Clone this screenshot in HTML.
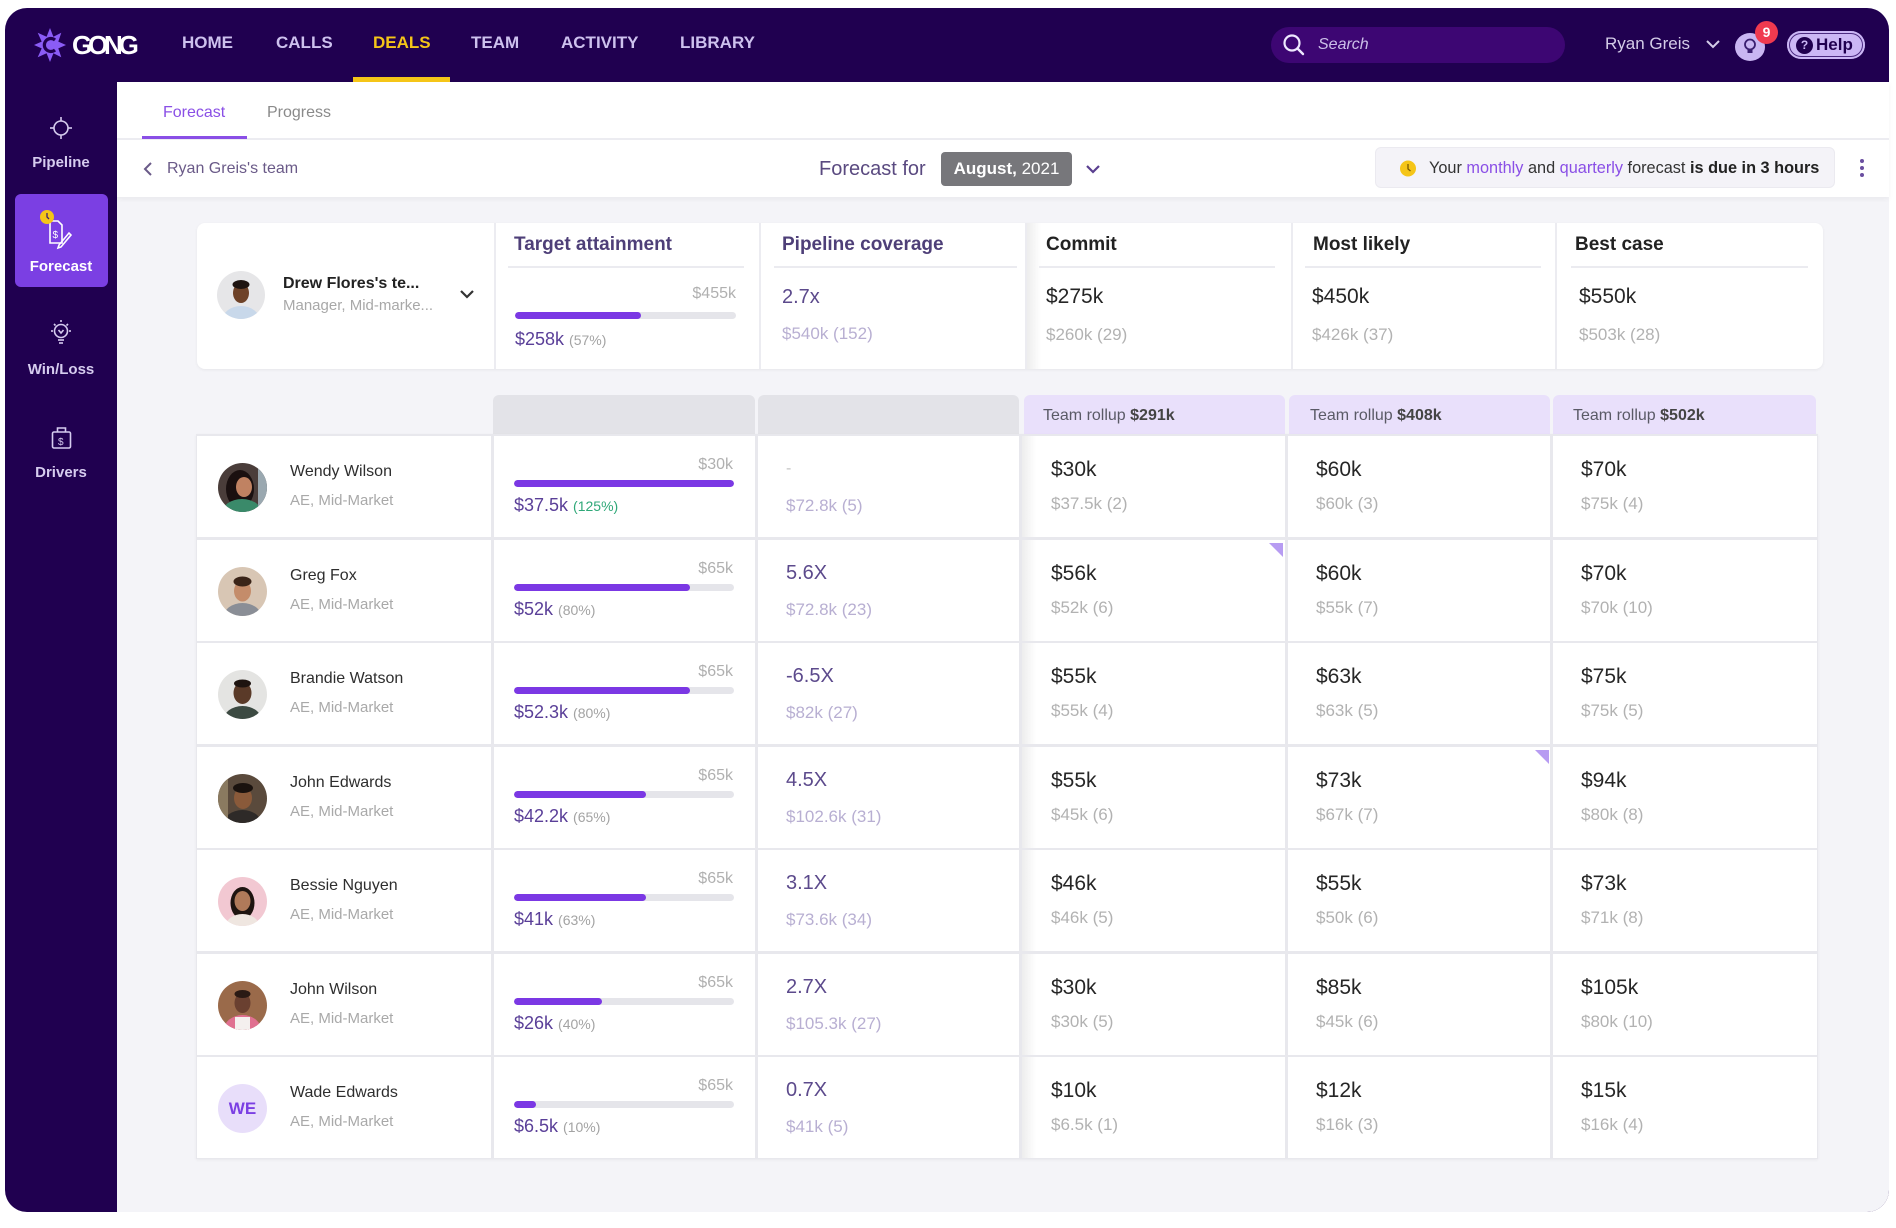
<!DOCTYPE html>
<html><head><meta charset="utf-8">
<style>
*{box-sizing:border-box;margin:0;padding:0}
body{width:1896px;height:1228px;background:#fff;position:relative;overflow:hidden;font-family:"Liberation Sans",Arial,sans-serif;}
.a{position:absolute;white-space:nowrap;line-height:24px;height:24px}
.frame{position:absolute;left:5px;top:8px;width:1884px;height:1204px;background:#200050;border-radius:22px}
.main{position:absolute;left:117px;top:82px;width:1772px;height:1130px;background:#f4f4f8;border-bottom-right-radius:22px}
.hdr{position:absolute;left:117px;top:82px;width:1772px;height:115px;background:#fff;box-shadow:0 2px 5px rgba(0,0,0,0.05)}
.nav{font-size:17px;font-weight:bold;color:#cdc1ee;top:31px}
.sl{left:5px;width:112px;text-align:center;font-size:15px;font-weight:bold;color:#d6ccef}
.card{position:absolute;left:197px;top:223px;width:1626px;height:146px;background:#fff;border-radius:8px;box-shadow:0 1px 3px rgba(0,0,0,0.06)}
.vd{position:absolute;top:223px;width:2px;height:146px;background:#ececf1}
.ttl{font-size:19px;font-weight:bold;top:233px}
.tl{position:absolute;top:266px;height:2px;background:#ebebf0}
.th{position:absolute;top:395px;height:40px;border-radius:6px 6px 0 0}
.tbl{position:absolute;left:196px;top:434px;width:1622px;height:725px;background:#e8e8ed;box-shadow:0 1px 3px rgba(0,0,0,0.05)}
.row{position:absolute;left:0;width:1896px;height:101px}
.cell{position:absolute;top:0;height:101px;background:#fff}
.cm{background:linear-gradient(to right,rgba(0,0,0,0.07),rgba(0,0,0,0) 14px),#fff}
.av{position:absolute;left:218px;top:27px;width:49px;height:49px;border-radius:50%;overflow:hidden}
.nm{left:290px;top:24px;font-size:16px;color:#2e2e2e}
.rl{left:290px;top:53px;font-size:15px;color:#a9a9a9}
.mx{left:494px;width:239px;text-align:right;top:17px;font-size:16px;color:#b0b0b0}
.bar{position:absolute;left:514px;top:44px;width:220px;height:7px;background:#e5e5ea;border-radius:4px;overflow:hidden}
.bar i{display:block;height:7px;background:#7b38e4;border-radius:4px}
.tv{left:514px;top:57px;font-size:18px;color:#5a3f98}
.tv span{font-size:14px;color:#a3a3a3}
.tv span.g{color:#2fa878}
.pm{left:786px;top:21px;font-size:20px;color:#5c4a8c}
.ps{left:786px;top:58px;font-size:17px;color:#b8afd2}
.cv{top:22px;font-size:21px;color:#262626}
.cs{top:56px;font-size:17px;color:#b2b2b2}
.tr{font-size:16px;color:#5a5a66;top:404px}
.tr b{color:#444}
</style></head><body>

<div class="frame"></div>
<div class="main"></div>
<div class="hdr"></div>
<div style="position:absolute;left:117px;top:138px;width:1772px;height:2px;background:#ececf1"></div>

<!-- logo -->
<svg class="a" style="left:30px;top:24px;height:44px;width:44px;line-height:0" width="44" height="44" viewBox="30 24 44 44">
<polygon fill="#8b5cf6" points="50,28 53.4,36.7 61.3,32.7 58.3,41.6 66,45 58.3,48.4 61.3,57.3 53.4,53.3 50,62 46.6,53.3 37.7,57.3 41.7,48.4 34,45 41.7,41.6 37.7,32.7 46.6,36.7"/>
<path d="M55 40 A6.5 6.5 0 1 0 55 50" stroke="#200050" stroke-width="3.2" fill="none"/>
</svg>
<div class="a" style="left:72px;top:29px;height:32px;line-height:32px;font-size:26px;font-weight:bold;color:#fff;letter-spacing:-4.2px">GONG</div>

<div class="a nav" style="left:182px">HOME</div>
<div class="a nav" style="left:276px">CALLS</div>
<div class="a nav" style="left:373px;color:#f5c518">DEALS</div>
<div class="a nav" style="left:471px">TEAM</div>
<div class="a nav" style="left:561px">ACTIVITY</div>
<div class="a nav" style="left:680px">LIBRARY</div>
<div style="position:absolute;left:353px;top:77px;width:97px;height:5px;background:#f5c518"></div>

<!-- search -->
<div style="position:absolute;left:1271px;top:27px;width:294px;height:36px;border-radius:18px;background:#3d0673"></div>
<svg class="a" style="left:1280px;top:31px;width:28px;height:28px" viewBox="1280 31 28 28"><circle cx="1292" cy="43" r="7.5" stroke="#eee8ff" stroke-width="2.2" fill="none"/><line x1="1297.5" y1="48.5" x2="1303" y2="54" stroke="#eee8ff" stroke-width="2.4" stroke-linecap="round"/></svg>
<div class="a" style="left:1318px;top:33px;font-size:16px;font-style:italic;color:#cbbfe8">Search</div>

<div class="a" style="left:1605px;top:32px;font-size:17px;color:#d4cce8">Ryan Greis</div>
<svg class="a" style="left:1704px;top:38px;width:18px;height:12px" viewBox="0 0 18 12"><polyline points="3,3 9,9 15,3" stroke="#d4cce8" stroke-width="2" fill="none"/></svg>
<div style="position:absolute;left:1735px;top:33px;width:30px;height:28px;border-radius:50%;background:#c9b6f2"></div>
<svg class="a" style="left:1741px;top:37px;width:18px;height:20px" viewBox="0 0 18 20"><circle cx="9" cy="7.5" r="5" fill="none" stroke="#3a1f70" stroke-width="1.8"/><rect x="6.5" y="12" width="5" height="4" fill="#3a1f70"/></svg>
<div style="position:absolute;left:1755px;top:21px;width:23px;height:23px;border-radius:50%;background:#f03a4f;color:#fff;font-size:14px;font-weight:bold;text-align:center;line-height:23px">9</div>
<div style="position:absolute;left:1787px;top:31px;width:78px;height:28px;border-radius:14px;background:#cbb7f5;box-shadow:inset 0 0 0 2px #cbb7f5,inset 0 0 0 3px #4a2a80"></div>
<div style="position:absolute;left:1796px;top:37px;width:17px;height:17px;border-radius:50%;background:#200050;color:#cbb7f5;font-size:12px;font-weight:bold;text-align:center;line-height:17px">?</div>
<div class="a" style="left:1816px;top:33px;font-size:17px;font-weight:bold;color:#200050">Help</div>

<!-- sidebar -->
<svg class="a" style="left:45px;top:112px;width:32px;height:32px" viewBox="45 112 32 32"><g stroke="#d6ccef" stroke-width="1.6" fill="none"><circle cx="61" cy="128" r="7"/><line x1="61" y1="117" x2="61" y2="121"/><line x1="61" y1="135" x2="61" y2="139"/><line x1="50" y1="128" x2="54" y2="128"/><line x1="68" y1="128" x2="72" y2="128"/></g></svg>
<div class="a sl" style="top:151px">Pipeline</div>
<div style="position:absolute;left:15px;top:194px;width:93px;height:93px;border-radius:6px;background:#7b3fe3"></div>
<svg class="a" style="left:38px;top:208px;width:40px;height:42px" viewBox="38 208 40 42"><g stroke="#fff" stroke-width="1.6" fill="none"><path d="M50 221 h8 l4 4 v18 h-12 z"/><path d="M59 245 l10 -12 l2 2 l-10 12 l-3 1 z"/></g><text x="52.5" y="238" font-size="10" fill="#fff" font-family="Liberation Sans">$</text><circle cx="47" cy="217" r="7" fill="#f5c518"/><path d="M47 213 v4 l2 2" stroke="#3a2070" stroke-width="1.3" fill="none"/></svg>
<div class="a sl" style="top:255px;color:#fff">Forecast</div>
<svg class="a" style="left:47px;top:318px;width:28px;height:30px" viewBox="47 318 28 30"><g stroke="#d6ccef" stroke-width="1.6" fill="none"><circle cx="61" cy="331" r="6.5"/><line x1="58" y1="340" x2="64" y2="340"/><line x1="59" y1="343" x2="63" y2="343"/><line x1="61" y1="320" x2="61" y2="322"/><line x1="51" y1="331" x2="53" y2="331"/><line x1="69" y1="331" x2="71" y2="331"/><line x1="54" y1="324" x2="55.5" y2="325.5"/><line x1="68" y1="324" x2="66.5" y2="325.5"/><path d="M58.5 330 l2.5 3 l2.5 -3"/></g></svg>
<div class="a sl" style="top:358px">Win/Loss</div>
<svg class="a" style="left:48px;top:424px;width:28px;height:28px" viewBox="48 424 28 28"><g stroke="#d6ccef" stroke-width="1.6" fill="none"><rect x="52.5" y="432" width="18" height="16" rx="1.5"/><path d="M57.5 432 v-4 h8 v4"/></g><text x="58" y="445" font-size="10" fill="#d6ccef" font-family="Liberation Sans">$</text></svg>
<div class="a sl" style="top:461px">Drivers</div>

<!-- tabs -->
<div class="a" style="left:163px;top:101px;font-size:16px;color:#8a4fe6">Forecast</div>
<div style="position:absolute;left:142px;top:136px;width:105px;height:3px;background:#8a4fe6"></div>
<div class="a" style="left:267px;top:101px;font-size:16px;color:#8a8a8a">Progress</div>

<svg class="a" style="left:142px;top:161px;width:14px;height:16px" viewBox="0 0 14 16"><polyline points="9,2 3,8 9,14" stroke="#6a5a88" stroke-width="2" fill="none"/></svg>
<div class="a" style="left:167px;top:157px;font-size:16px;color:#6a5a88">Ryan Greis's team</div>
<div class="a" style="left:819px;top:157px;font-size:20px;color:#5a4a80">Forecast for</div>
<div style="position:absolute;left:941px;top:152px;width:131px;height:34px;border-radius:4px;background:#77777b;color:#fff;font-size:17px;line-height:34px;text-align:center"><b>August,</b> 2021</div>
<svg class="a" style="left:1084px;top:162px;width:18px;height:14px" viewBox="0 0 18 14"><polyline points="3,4 9,10 15,4" stroke="#5a3f90" stroke-width="2.2" fill="none"/></svg>
<div style="position:absolute;left:1375px;top:147px;width:460px;height:41px;border-radius:6px;background:#f4f3f8;border:1px solid #ebeaf0"></div>
<svg class="a" style="left:1399px;top:159px;width:20px;height:20px" viewBox="0 0 20 20"><circle cx="9" cy="9.5" r="8" fill="#f5c518"/><path d="M9 5 v5 l2.5 2" stroke="#7a5a00" stroke-width="1.3" fill="none"/></svg>
<div class="a" style="left:1429px;top:156px;font-size:16.3px;color:#333">Your <span style="color:#8a4fe6">monthly</span> and <span style="color:#8a4fe6">quarterly</span> forecast <b style="color:#222">is due in 3 hours</b></div>
<svg class="a" style="left:1857px;top:156px;width:10px;height:24px" viewBox="0 0 10 24"><circle cx="5" cy="5" r="2" fill="#6a4ea0"/><circle cx="5" cy="12" r="2" fill="#6a4ea0"/><circle cx="5" cy="19" r="2" fill="#6a4ea0"/></svg>

<!-- summary card -->
<div class="card"></div>
<div style="position:absolute;left:1027px;top:223px;width:14px;height:146px;background:linear-gradient(to right,rgba(0,0,0,0.07),rgba(0,0,0,0))"></div>
<div class="vd" style="left:494px"></div>
<div class="vd" style="left:759px"></div>
<div class="vd" style="left:1025px"></div>
<div class="vd" style="left:1291px"></div>
<div class="vd" style="left:1555px"></div>

<div style="position:absolute;left:217px;top:271px;width:48px;height:48px;border-radius:50%;overflow:hidden;background:#e6e6e8"><svg width="48" height="48"><ellipse cx="24" cy="50" rx="19" ry="15" fill="#c8d8ea"/><ellipse cx="24" cy="22" rx="8" ry="10" fill="#6e4228"/><ellipse cx="24" cy="13.5" rx="8.5" ry="4.5" fill="#1e1410"/></svg></div>
<div class="a" style="left:283px;top:272px;font-size:16px;font-weight:bold;color:#222">Drew Flores's te...</div>
<div class="a" style="left:283px;top:294px;font-size:15px;color:#a8a8a8">Manager, Mid-marke...</div>
<svg class="a" style="left:458px;top:288px;width:18px;height:14px" viewBox="0 0 18 14"><polyline points="3,3 9,9 15,3" stroke="#333" stroke-width="2.2" fill="none"/></svg>

<div class="a ttl" style="left:514px;color:#4e3f78">Target attainment</div>
<div class="a ttl" style="left:782px;color:#4e3f78">Pipeline coverage</div>
<div class="a ttl" style="left:1046px;color:#222">Commit</div>
<div class="a ttl" style="left:1313px;color:#222">Most likely</div>
<div class="a ttl" style="left:1575px;color:#222">Best case</div>
<div class="tl" style="left:508px;width:236px"></div>
<div class="tl" style="left:774px;width:243px"></div>
<div class="tl" style="left:1039px;width:236px"></div>
<div class="tl" style="left:1305px;width:236px"></div>
<div class="tl" style="left:1571px;width:237px"></div>

<div class="a" style="left:496px;width:240px;text-align:right;top:282px;font-size:16px;color:#b0b0b0">$455k</div>
<div class="bar" style="left:515px;top:312px;width:221px"><i style="width:57%"></i></div>
<div class="a tv" style="left:515px;top:327px">$258k <span>(57%)</span></div>
<div class="a" style="left:782px;top:285px;font-size:20px;color:#5c4a8c">2.7x</div>
<div class="a" style="left:782px;top:322px;font-size:17px;color:#b8afd2">$540k (152)</div>
<div class="a cv" style="left:1046px;top:285px">$275k</div>
<div class="a cs" style="left:1046px;top:323px">$260k (29)</div>
<div class="a cv" style="left:1312px;top:285px">$450k</div>
<div class="a cs" style="left:1312px;top:323px">$426k (37)</div>
<div class="a cv" style="left:1579px;top:285px">$550k</div>
<div class="a cs" style="left:1579px;top:323px">$503k (28)</div>

<!-- table header -->
<div class="th" style="left:493px;width:262px;background:#e3e3e8"></div>
<div class="th" style="left:758px;width:261px;background:#e3e3e8"></div>
<div class="th" style="left:1024px;width:261px;background:#e9e0fb"></div>
<div class="th" style="left:1289px;width:261px;background:#e9e0fb"></div>
<div class="th" style="left:1553px;width:263px;background:#e9e0fb"></div>
<div class="a tr" style="left:1043px">Team rollup <b>$291k</b></div>
<div class="a tr" style="left:1310px">Team rollup <b>$408k</b></div>
<div class="a tr" style="left:1573px">Team rollup <b>$502k</b></div>

<div class="tbl"></div>

<!-- rows -->
<div class="row" style="top:436px">
<div class="cell" style="left:197px;width:294px"></div><div class="cell" style="left:494px;width:261px"></div><div class="cell" style="left:758px;width:261px"></div><div class="cell cm" style="left:1022px;width:263px"></div><div class="cell" style="left:1288px;width:262px"></div><div class="cell" style="left:1553px;width:264px"></div>
<div class="av" style="background:#4a3d3a"><svg width="49" height="49"><ellipse cx="22" cy="26" rx="14" ry="19" fill="#1a1010"/><ellipse cx="24" cy="50" rx="20" ry="14" fill="#3a8a6a"/><ellipse cx="26" cy="24" rx="8" ry="10" fill="#c08262"/><rect x="40" y="5" width="9" height="40" fill="#9aa8b0"/></svg></div>
<div class="a nm">Wendy Wilson</div><div class="a rl">AE, Mid-Market</div>
<div class="a mx">$30k</div><div class="bar"><i style="width:100%"></i></div>
<div class="a tv">$37.5k <span class="g">(125%)</span></div>
<div class="a pm" style="color:#c4c4c4;font-size:16px">-</div><div class="a ps">$72.8k (5)</div>
<div class="a cv" style="left:1051px">$30k</div><div class="a cs" style="left:1051px">$37.5k (2)</div>
<div class="a cv" style="left:1316px">$60k</div><div class="a cs" style="left:1316px">$60k (3)</div>
<div class="a cv" style="left:1581px">$70k</div><div class="a cs" style="left:1581px">$75k (4)</div>
</div>

<div class="row" style="top:540px">
<div class="cell" style="left:197px;width:294px"></div><div class="cell" style="left:494px;width:261px"></div><div class="cell" style="left:758px;width:261px"></div><div class="cell cm" style="left:1022px;width:263px"></div><div class="cell" style="left:1288px;width:262px"></div><div class="cell" style="left:1553px;width:264px"></div>
<div class="av" style="background:#d8c6b4"><svg width="49" height="49"><ellipse cx="24.5" cy="50" rx="19" ry="14" fill="#8a8e96"/><ellipse cx="24.5" cy="24" rx="8.5" ry="10.5" fill="#c48c6a"/><ellipse cx="24.5" cy="14.5" rx="9" ry="5" fill="#3a2418"/></svg></div>
<div class="a nm">Greg Fox</div><div class="a rl">AE, Mid-Market</div>
<div class="a mx">$65k</div><div class="bar"><i style="width:80%"></i></div>
<div class="a tv">$52k <span>(80%)</span></div>
<div class="a pm">5.6X</div><div class="a ps">$72.8k (23)</div>
<div class="a cv" style="left:1051px">$56k</div><div class="a cs" style="left:1051px">$52k (6)</div>
<div class="a cv" style="left:1316px">$60k</div><div class="a cs" style="left:1316px">$55k (7)</div>
<div class="a cv" style="left:1581px">$70k</div><div class="a cs" style="left:1581px">$70k (10)</div>
<svg style="position:absolute;left:1269px;top:3px" width="15" height="15"><polygon points="0,0 14,0 14,14" fill="#b79cf2"/></svg>
</div>

<div class="row" style="top:643px">
<div class="cell" style="left:197px;width:294px"></div><div class="cell" style="left:494px;width:261px"></div><div class="cell" style="left:758px;width:261px"></div><div class="cell cm" style="left:1022px;width:263px"></div><div class="cell" style="left:1288px;width:262px"></div><div class="cell" style="left:1553px;width:264px"></div>
<div class="av" style="background:#e4e4e2"><svg width="49" height="49"><ellipse cx="24.5" cy="50" rx="19" ry="14" fill="#3c4a42"/><ellipse cx="24.5" cy="23" rx="9" ry="11" fill="#5a3a28"/><ellipse cx="24.5" cy="13.5" rx="8.5" ry="4" fill="#1e1410"/></svg></div>
<div class="a nm">Brandie Watson</div><div class="a rl">AE, Mid-Market</div>
<div class="a mx">$65k</div><div class="bar"><i style="width:80%"></i></div>
<div class="a tv">$52.3k <span>(80%)</span></div>
<div class="a pm">-6.5X</div><div class="a ps">$82k (27)</div>
<div class="a cv" style="left:1051px">$55k</div><div class="a cs" style="left:1051px">$55k (4)</div>
<div class="a cv" style="left:1316px">$63k</div><div class="a cs" style="left:1316px">$63k (5)</div>
<div class="a cv" style="left:1581px">$75k</div><div class="a cs" style="left:1581px">$75k (5)</div>
</div>

<div class="row" style="top:747px">
<div class="cell" style="left:197px;width:294px"></div><div class="cell" style="left:494px;width:261px"></div><div class="cell" style="left:758px;width:261px"></div><div class="cell cm" style="left:1022px;width:263px"></div><div class="cell" style="left:1288px;width:262px"></div><div class="cell" style="left:1553px;width:264px"></div>
<div class="av" style="background:#5a4a3c"><svg width="49" height="49"><ellipse cx="24.5" cy="50" rx="19" ry="14" fill="#2e2a28"/><ellipse cx="25" cy="24" rx="9" ry="11" fill="#8a5a3a"/><ellipse cx="25" cy="14" rx="10" ry="5" fill="#1a120e"/><rect x="0" y="0" width="10" height="49" fill="#8a7a60"/></svg></div>
<div class="a nm">John Edwards</div><div class="a rl">AE, Mid-Market</div>
<div class="a mx">$65k</div><div class="bar"><i style="width:60%"></i></div>
<div class="a tv">$42.2k <span>(65%)</span></div>
<div class="a pm">4.5X</div><div class="a ps">$102.6k (31)</div>
<div class="a cv" style="left:1051px">$55k</div><div class="a cs" style="left:1051px">$45k (6)</div>
<div class="a cv" style="left:1316px">$73k</div><div class="a cs" style="left:1316px">$67k (7)</div>
<div class="a cv" style="left:1581px">$94k</div><div class="a cs" style="left:1581px">$80k (8)</div>
<svg style="position:absolute;left:1535px;top:3px" width="15" height="15"><polygon points="0,0 14,0 14,14" fill="#b79cf2"/></svg>
</div>

<div class="row" style="top:850px">
<div class="cell" style="left:197px;width:294px"></div><div class="cell" style="left:494px;width:261px"></div><div class="cell" style="left:758px;width:261px"></div><div class="cell cm" style="left:1022px;width:263px"></div><div class="cell" style="left:1288px;width:262px"></div><div class="cell" style="left:1553px;width:264px"></div>
<div class="av" style="background:#f2c8d2"><svg width="49" height="49"><ellipse cx="24.5" cy="26" rx="12" ry="16" fill="#1e1410"/><ellipse cx="24.5" cy="50" rx="17" ry="13" fill="#efe6e0"/><ellipse cx="24.5" cy="24" rx="8" ry="10" fill="#b07a5a"/></svg></div>
<div class="a nm">Bessie Nguyen</div><div class="a rl">AE, Mid-Market</div>
<div class="a mx">$65k</div><div class="bar"><i style="width:60%"></i></div>
<div class="a tv">$41k <span>(63%)</span></div>
<div class="a pm">3.1X</div><div class="a ps">$73.6k (34)</div>
<div class="a cv" style="left:1051px">$46k</div><div class="a cs" style="left:1051px">$46k (5)</div>
<div class="a cv" style="left:1316px">$55k</div><div class="a cs" style="left:1316px">$50k (6)</div>
<div class="a cv" style="left:1581px">$73k</div><div class="a cs" style="left:1581px">$71k (8)</div>
</div>

<div class="row" style="top:954px">
<div class="cell" style="left:197px;width:294px"></div><div class="cell" style="left:494px;width:261px"></div><div class="cell" style="left:758px;width:261px"></div><div class="cell cm" style="left:1022px;width:263px"></div><div class="cell" style="left:1288px;width:262px"></div><div class="cell" style="left:1553px;width:264px"></div>
<div class="av" style="background:#9a6a4a"><svg width="49" height="49"><ellipse cx="24.5" cy="50" rx="19" ry="16" fill="#e07090"/><rect x="17" y="36" width="15" height="14" fill="#f4f0ee"/><ellipse cx="24.5" cy="22" rx="8" ry="10" fill="#6a4030"/><ellipse cx="24.5" cy="13" rx="8" ry="4" fill="#2a1a14"/></svg></div>
<div class="a nm">John Wilson</div><div class="a rl">AE, Mid-Market</div>
<div class="a mx">$65k</div><div class="bar"><i style="width:40%"></i></div>
<div class="a tv">$26k <span>(40%)</span></div>
<div class="a pm">2.7X</div><div class="a ps">$105.3k (27)</div>
<div class="a cv" style="left:1051px">$30k</div><div class="a cs" style="left:1051px">$30k (5)</div>
<div class="a cv" style="left:1316px">$85k</div><div class="a cs" style="left:1316px">$45k (6)</div>
<div class="a cv" style="left:1581px">$105k</div><div class="a cs" style="left:1581px">$80k (10)</div>
</div>

<div class="row" style="top:1057px">
<div class="cell" style="left:197px;width:294px"></div><div class="cell" style="left:494px;width:261px"></div><div class="cell" style="left:758px;width:261px"></div><div class="cell cm" style="left:1022px;width:263px"></div><div class="cell" style="left:1288px;width:262px"></div><div class="cell" style="left:1553px;width:264px"></div>
<div class="av" style="background:#e8defa;color:#7b3fe3;font-size:17px;font-weight:bold;text-align:center;line-height:49px">WE</div>
<div class="a nm">Wade Edwards</div><div class="a rl">AE, Mid-Market</div>
<div class="a mx">$65k</div><div class="bar"><i style="width:10%"></i></div>
<div class="a tv">$6.5k <span>(10%)</span></div>
<div class="a pm">0.7X</div><div class="a ps">$41k (5)</div>
<div class="a cv" style="left:1051px">$10k</div><div class="a cs" style="left:1051px">$6.5k (1)</div>
<div class="a cv" style="left:1316px">$12k</div><div class="a cs" style="left:1316px">$16k (3)</div>
<div class="a cv" style="left:1581px">$15k</div><div class="a cs" style="left:1581px">$16k (4)</div>
</div>

</body></html>
